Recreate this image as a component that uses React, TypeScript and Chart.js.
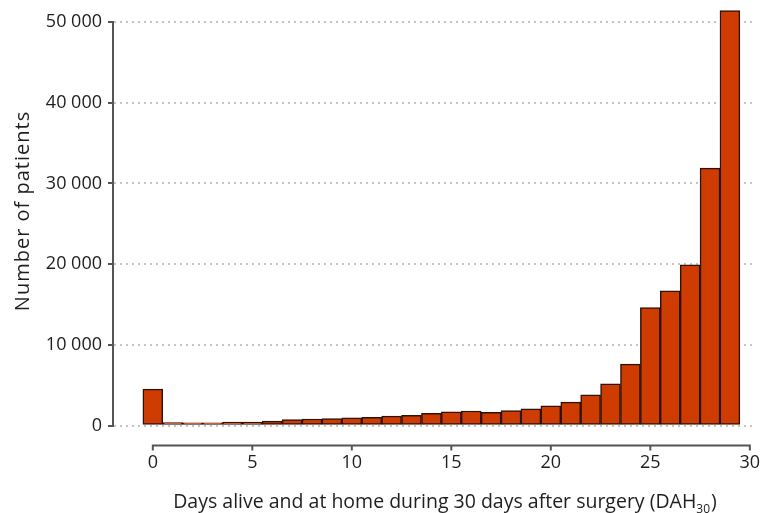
import React, { useEffect, useRef } from "react";
import { Chart, registerables } from "chart.js";

Chart.register(...registerables);

// ---- data ----
const days = [0, 1, 2, 3, 4, 5, 6, 7, 8, 9, 10, 11, 12, 13, 14, 15, 16, 17, 18, 19, 20, 21, 22, 23, 24, 25, 26, 27, 28, 29];
const patients = [
  4500, 350, 330, 330, 420, 430, 560, 720, 800, 850,
  950, 1020, 1170, 1260, 1500, 1680, 1800, 1640, 1850, 2060,
  2450, 2900, 3800, 5150, 7600, 14600, 16700, 19900, 31900, 51400,
];
const xTickValues = [0, 5, 10, 15, 20, 25, 30];
const yTickValues = [0, 10000, 20000, 30000, 40000, 50000];
const xTitleMain = "Days alive and at home during 30 days after surgery (DAH";
const xTitleSub = "30";
const xTitleEnd = ")";
const yTitle = "Number of patients";

const FONT = "'Open Sans', 'DejaVu Sans', sans-serif";
const TEXT = "#1e1e1e";
const AXIS = "#555555";

const fmt = (v: number) => {
  const s = String(Math.round(v));
  return s.length > 3 ? s.slice(0, s.length - 3) + " " + s.slice(s.length - 3) : s;
};

const decorPlugin = {
  id: "decor",
  afterDraw(chart: any) {
    const { ctx, chartArea } = chart;
    const xs = chart.scales.x;
    const y0 = chartArea.bottom + 20;
    ctx.save();
    // x axis line + ticks
    ctx.strokeStyle = AXIS;
    ctx.lineWidth = 2;
    ctx.setLineDash([]);
    ctx.beginPath();
    ctx.moveTo(xs.getPixelForValue(xTickValues[0]) - 1, y0);
    ctx.lineTo(xs.getPixelForValue(xTickValues[xTickValues.length - 1]) + 1, y0);
    for (const v of xTickValues) {
      const px = xs.getPixelForValue(v);
      ctx.moveTo(px, y0);
      ctx.lineTo(px, y0 + 5);
    }
    ctx.stroke();

    // x title with subscript
    ctx.fillStyle = TEXT;
    ctx.textBaseline = "alphabetic";
    ctx.textAlign = "left";
    const mainFont = `19.5px ${FONT}`;
    const subFont = `12px ${FONT}`;
    ctx.font = mainFont;
    const w1 = ctx.measureText(xTitleMain).width;
    const w3 = ctx.measureText(xTitleEnd).width;
    ctx.font = subFont;
    const w2 = ctx.measureText(xTitleSub).width;
    const total = w1 + w2 + w3 + 1;
    const cx = 445;
    const base = chartArea.bottom + 82;
    let x = cx - total / 2;
    ctx.font = mainFont;
    ctx.fillText(xTitleMain, x, base);
    x += w1;
    ctx.font = subFont;
    ctx.fillText(xTitleSub, x, base + 5);
    x += w2 + 1;
    ctx.font = mainFont;
    ctx.fillText(xTitleEnd, x, base);

    // y title
    ctx.translate(23, 211);
    ctx.rotate(-Math.PI / 2);
    ctx.textAlign = "center";
    ctx.textBaseline = "middle";
    ctx.font = `20px ${FONT}`;
    try {
      (ctx as any).letterSpacing = "1px";
    } catch (e) {}
    ctx.fillText(yTitle, 0, 0);
    ctx.restore();
  },
};

export default function App() {
  const ref = useRef<HTMLCanvasElement | null>(null);

  useEffect(() => {
    if (!ref.current) return;
    const chart = new Chart(ref.current, {
      type: "bar",
      data: {
        datasets: [
          {
            data: days.map((d, i) => ({ x: d, y: patients[i] })),
            backgroundColor: "#cf3c02",
            borderColor: "#2e1206",
            borderWidth: 1.5,
            borderSkipped: false,
            barPercentage: 1,
            categoryPercentage: 1,
            clip: false,
          } as any,
        ],
      },
      options: {
        responsive: false,
        animation: false,
        layout: { padding: { top: 22, right: 5, left: 0, bottom: 0 } },
        plugins: { legend: { display: false }, tooltip: { enabled: false } },
        scales: {
          x: {
            type: "linear",
            offset: false,
            min: -2,
            max: 30.26,
            afterBuildTicks: (s: any) => {
              s.ticks = xTickValues.map((v) => ({ value: v }));
            },
            grid: { display: false, drawTicks: false, offset: false },
            border: { display: false },
            ticks: {
              padding: 27,
              autoSkip: false,
              maxRotation: 0,
              color: TEXT,
              font: { family: FONT, size: 18 },
              callback: (v: any) => String(v),
            },
            afterFit: (s: any) => {
              s.height = 87.5;
              s.paddingLeft = 0;
              s.paddingRight = 0;
            },
          },
          y: {
            min: 0,
            max: 50000,
            afterBuildTicks: (s: any) => {
              s.ticks = yTickValues.map((v) => ({ value: v }));
            },
            grid: {
              color: "#c4c4c4",
              lineWidth: 2,
              drawTicks: true,
              tickLength: 5,
              tickWidth: 2,
              tickColor: AXIS,
              tickBorderDash: [],
            },
            border: { display: true, color: AXIS, width: 2, dash: [2, 4] },
            ticks: {
              padding: 6,
              color: TEXT,
              font: { family: FONT, size: 18 },
              callback: (v: any) => fmt(Number(v)),
            },
            afterFit: (s: any) => {
              s.width = 113;
              s.paddingTop = 0;
              s.paddingBottom = 0;
            },
          },
        },
      } as any,
      plugins: [decorPlugin],
    });
    return () => chart.destroy();
  }, []);

  return (
    <div style={{ position: "absolute", left: 0, top: 0, width: 760, height: 513, background: "#fff" }}>
      <canvas ref={ref} width={760} height={513} style={{ display: "block", width: 760, height: 513 }} />
    </div>
  );
}
